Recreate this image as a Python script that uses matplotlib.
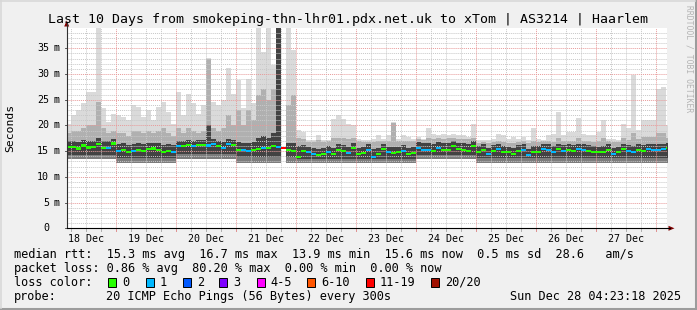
import numpy as np
import matplotlib
matplotlib.use("Agg")
import matplotlib.pyplot as plt
from matplotlib.patches import Rectangle, Polygon
from matplotlib.transforms import blended_transform_factory

W, H, DPI = 697, 310, 100
MONO = "DejaVu Sans Mono"

# time axis in hours since 18 Dec 00:00, 2 hour bins starting at 04:00
BIN_START = 4
BIN_WIDTH = 2
T_START, T_END = 4.38, 244.38
Y_MAX = 39.0

# median rtt per bin (ms)
median = [
    15.8, 15.8, 15.5, 16.1, 15.7, 15.8, 16.4, 15.6, 15.6, 16.5,
    15.0, 15.3, 14.9, 15.1, 15.3, 15.0, 15.4, 15.5, 15.3, 14.9, 15.1, 14.9,
    16.0, 16.0, 16.2, 16.0, 16.2, 16.2, 16.1, 16.4, 16.0, 15.6, 16.4, 16.2,
    15.3, 15.3, 15.1, 15.3, 15.4, 15.6, 15.6, 16.0, 15.8, 15.6, 15.3, 15.1,
    13.9, 15.0, 14.8, 14.5, 14.2, 14.5, 14.9, 14.5, 15.3, 15.1, 14.7, 15.6,
    14.5, 14.7, 15.3, 13.9, 14.5, 15.4, 14.8, 14.7, 14.8, 15.1, 14.5, 14.7,
    15.6, 15.3, 15.3, 15.1, 15.6, 15.3, 15.3, 16.0, 15.4, 15.3, 15.1, 16.0,
    14.9, 15.3, 14.5, 15.1, 15.4, 14.9, 14.8, 14.5, 15.1, 15.3, 14.2, 14.9,
    14.9, 15.4, 15.3, 14.9, 15.4, 15.1, 15.3, 15.1, 15.4, 15.3, 15.1, 14.9,
    14.8, 14.9, 15.3, 14.5, 14.8, 15.4, 15.1, 14.8, 15.3, 15.1, 15.4, 15.3,
    15.3, 15.4, 15.6,
]

# lost pings per bin (0, 1 ... 11 = class 11-19)
loss = [
    0, 0, 0, 0, 0, 0, 0, 0, 1, 0,
    1, 0, 0, 1, 0, 0, 0, 0, 0, 0, 0, 1,
    1, 0, 0, 1, 0, 0, 1, 1, 0, 1, 1, 0,
    0, 1, 1, 0, 0, 1, 0, 0, 1, 11, 0, 0,
    0, 0, 1, 1, 0, 0, 1, 0, 0, 0, 1, 0,
    0, 0, 1, 1, 0, 0, 1, 0, 0, 1, 0, 0,
    1, 1, 1, 0, 1, 0, 0, 0, 0, 0, 0, 0,
    0, 0, 1, 0, 1, 0, 0, 0, 0, 1, 1, 0,
    0, 1, 1, 1, 0, 1, 0, 0, 1, 1, 0, 0,
    0, 0, 0, 1, 0, 0, 1, 1, 0, 0, 1, 1,
    1, 1, 0,
]

# smoke: lowest ping, dark core bottom/top, upper percentile, highest ping (ms)
smoke_min = [
    13.4, 13.4, 13.4, 13.4, 13.4, 13.4, 13.4, 13.4, 13.4, 13.4,
    12.6, 12.6, 12.6, 12.6, 12.6, 12.6, 12.6, 12.6, 12.6, 12.6, 12.6, 12.6,
    13.4, 13.4, 13.4, 13.4, 13.4, 13.4, 13.4, 13.4, 13.4, 13.4, 13.4, 13.4,
    12.6, 12.6, 12.6, 12.6, 12.6, 12.6, 12.6, 12.6, 12.6, 15.4, 12.6, 12.6,
    12.7, 12.7, 12.7, 12.7, 12.7, 12.7, 12.7, 12.7, 12.7, 12.7, 12.7, 12.7,
    12.7, 12.7, 12.7, 12.7, 12.7, 12.7, 12.7, 12.7, 12.7, 12.7, 12.7, 12.7,
    13.4, 13.4, 13.4, 13.4, 13.4, 13.4, 13.4, 13.4, 13.4, 13.4, 13.4, 13.4,
    12.6, 12.6, 12.6, 12.6, 12.6, 12.6, 12.6, 12.6, 12.6, 12.6, 12.6, 12.6,
    12.6, 12.6, 12.6, 12.6, 12.6, 12.6, 12.6, 12.6, 12.6, 12.6, 12.6, 12.6,
    12.6, 12.6, 12.6, 12.6, 12.6, 12.6, 12.6, 12.6, 12.6, 12.6, 12.6, 12.6,
    12.6, 12.6, 12.6,
]
core_lo = [
    14.3, 14.3, 14.3, 14.3, 14.3, 14.3, 14.3, 14.3, 14.3, 14.3,
    13.6, 13.6, 13.6, 13.6, 13.6, 13.6, 13.6, 13.6, 13.6, 13.6, 13.6, 13.6,
    14.4, 14.4, 14.4, 14.4, 14.4, 14.4, 14.4, 14.4, 14.4, 14.4, 14.4, 14.4,
    13.8, 13.8, 13.8, 13.8, 13.8, 13.8, 13.8, 13.8, 13.8, 15.4, 13.8, 13.8,
    13.5, 13.5, 13.5, 13.5, 13.5, 13.5, 13.5, 13.5, 13.5, 13.5, 13.5, 13.5,
    13.5, 13.5, 13.5, 13.5, 13.5, 13.5, 13.5, 13.5, 13.5, 13.5, 13.5, 13.5,
    14.2, 14.2, 14.2, 14.2, 14.2, 14.2, 14.2, 14.2, 14.2, 14.2, 14.2, 14.2,
    13.6, 13.6, 13.6, 13.6, 13.6, 13.6, 13.6, 13.6, 13.6, 13.6, 13.6, 13.6,
    13.6, 13.6, 13.6, 13.6, 13.6, 13.6, 13.6, 13.6, 13.6, 13.6, 13.6, 13.6,
    13.6, 13.6, 13.6, 13.6, 13.6, 13.6, 13.6, 13.6, 13.6, 13.6, 13.6, 13.6,
    13.6, 13.6, 13.6,
]
core_hi = [
    17.0, 17.0, 16.8, 17.2, 17.0, 17.0, 17.5, 16.9, 16.9, 17.4,
    16.3, 16.5, 16.2, 16.4, 16.5, 16.3, 16.6, 16.6, 16.5, 16.2, 16.4, 16.2,
    17.0, 17.0, 17.2, 17.0, 17.2, 17.2, 20.0, 17.3, 17.0, 16.8, 17.4, 17.2,
    16.8, 16.6, 16.5, 16.8, 17.5, 18.0, 17.5, 18.5, 39.0, 15.8, 16.6, 16.5,
    16.0, 16.1, 15.9, 15.7, 15.5, 15.7, 16.0, 15.7, 16.3, 16.2, 15.9, 16.5,
    15.7, 15.9, 16.3, 15.4, 15.7, 16.4, 15.9, 15.9, 15.9, 16.1, 15.7, 15.9,
    16.7, 16.5, 16.5, 16.3, 16.7, 16.5, 16.5, 17.0, 16.5, 16.5, 16.3, 17.0,
    16.0, 16.3, 15.7, 16.1, 16.4, 16.0, 15.9, 15.7, 16.1, 16.3, 15.5, 16.0,
    16.0, 16.4, 16.3, 16.0, 16.4, 16.1, 16.3, 16.1, 16.4, 16.3, 16.1, 16.0,
    15.9, 16.0, 16.3, 15.7, 15.9, 16.4, 16.1, 16.0, 16.3, 16.1, 16.4, 16.3,
    16.3, 16.4, 16.5,
]
smoke_mid = [
    18.5, 19.0, 19.0, 19.5, 20.0, 20.0, 24.5, 19.5, 18.5, 19.0,
    18.5, 18.5, 18.0, 19.0, 19.0, 18.5, 19.0, 18.5, 19.0, 19.5, 18.5, 18.0,
    19.5, 18.5, 19.5, 19.0, 18.5, 19.0, 33.0, 19.5, 19.0, 19.5, 22.0, 20.0,
    23.0, 20.0, 23.0, 21.0, 26.0, 27.0, 25.0, 27.0, 39.0, 15.8, 24.0, 26.0,
    17.5, 17.3, 16.8, 16.8, 17.2, 16.8, 16.9, 17.5, 17.5, 17.5, 17.3, 17.5,
    16.9, 16.8, 16.8, 16.8, 17.0, 16.9, 17.0, 20.5, 16.9, 17.0, 17.0, 16.9,
    17.3, 17.2, 17.5, 17.4, 17.5, 17.4, 17.5, 17.6, 17.4, 17.4, 17.3, 17.6,
    16.6, 16.7, 16.5, 16.7, 16.9, 16.7, 16.6, 16.6, 16.7, 16.9, 16.5, 16.9,
    16.8, 16.9, 16.9, 16.8, 17.5, 16.9, 17.0, 17.0, 17.5, 17.0, 16.9, 16.8,
    16.9, 17.5, 16.9, 16.7, 16.8, 17.5, 17.2, 18.5, 17.3, 17.8, 17.8, 17.8,
    18.5, 18.5, 17.5,
]
smoke_max = [
    20.3, 22.0, 23.0, 24.3, 26.5, 26.5, 38.9, 23.3, 20.6, 22.3,
    22.0, 21.6, 21.0, 23.9, 23.6, 21.6, 23.0, 21.0, 23.6, 24.6, 22.6, 20.3,
    26.5, 22.0, 26.2, 24.3, 22.3, 23.9, 33.2, 24.6, 23.9, 24.9, 31.2, 26.2,
    28.8, 23.3, 29.1, 24.3, 39.0, 34.3, 39.0, 31.7, 39.0, 15.8, 39.0, 34.6,
    19.1, 18.8, 17.1, 17.1, 18.1, 17.1, 17.1, 21.3, 22.0, 21.3, 20.2, 20.0,
    17.4, 17.1, 17.1, 17.4, 18.1, 17.4, 18.1, 20.6, 17.4, 18.1, 17.8, 17.4,
    17.8, 17.4, 19.5, 18.4, 18.1, 18.4, 18.1, 18.4, 18.1, 18.1, 17.8, 20.3,
    17.1, 17.1, 17.1, 17.4, 18.4, 18.1, 17.4, 17.8, 17.4, 17.8, 17.1, 19.5,
    17.4, 17.1, 18.1, 18.4, 22.6, 18.1, 18.8, 18.8, 21.5, 18.4, 18.1, 18.1,
    18.8, 21.0, 17.4, 17.4, 17.1, 20.3, 19.5, 29.9, 19.1, 21.0, 21.0, 21.0,
    27.1, 27.5, 20.0,
]

day_labels = ["18 Dec", "19 Dec", "20 Dec", "21 Dec", "22 Dec",
              "23 Dec", "24 Dec", "25 Dec", "26 Dec", "27 Dec"]
y_ticks = [0, 5, 10, 15, 20, 25, 30, 35]

loss_colors = {0: "#26ff00", 1: "#00b8ff", 2: "#0059ff", 3: "#7e00ff",
               5: "#ff00ff", 10: "#ff5500", 11: "#ff0000", 20: "#a01000"}
legend_classes = [(0, "0"), (1, "1"), (2, "2"), (3, "3"), (5, "4-5"),
                  (10, "6-10"), (11, "11-19"), (20, "20/20")]


def fx(px):
    return px / W


def fy(py):
    return 1 - py / H


fig = plt.figure(figsize=(W / DPI, H / DPI), dpi=DPI, facecolor="#f0f0f0")
ax = fig.add_axes([fx(66.7), fy(228.3), 600 / W, 200.6 / H])
ax.set_facecolor("white")
ax.set_xlim(T_START, T_END)
ax.set_ylim(0, Y_MAX)
for s in ax.spines.values():
    s.set_visible(False)

n = len(median)
left = BIN_START + BIN_WIDTH * np.arange(n)
xs = np.append(left, left[-1] + BIN_WIDTH)


def ext(a):
    a = np.asarray(a, dtype=float)
    return np.append(a, a[-1])


# smoke bands
bands = [
    (smoke_mid, smoke_max, "#dadada"),
    (core_hi, smoke_mid, "#b0b0b0"),
    (smoke_min, core_lo, "#7c7c7c"),
    (core_lo, core_hi, "#424242"),
]
for lo, hi, c in bands:
    ax.fill_between(xs, ext(lo), ext(hi), step="post", color=c, lw=0, zorder=2)

# grid on top of the smoke
hours_minor = [h for h in range(6, 246, 6) if h % 24]
hours_major = list(range(24, 246, 24))
ax.vlines(hours_minor, 0, Y_MAX, colors="#c8c8c8", lw=0.7,
          linestyles=(0, (1, 1)), zorder=3)
ax.hlines([v for v in range(1, 39) if v % 5], T_START, T_END, colors="#c8c8c8",
          lw=0.7, linestyles=(0, (1, 1)), zorder=3)
ax.vlines(hours_major, 0, Y_MAX, colors="#e89a9a", lw=0.7,
          linestyles=(0, (1, 1)), zorder=3)
ax.hlines(y_ticks[1:], T_START, T_END, colors="#e89a9a", lw=0.7,
          linestyles=(0, (1, 1)), zorder=3)

# median, coloured by loss
med = np.asarray(median)
ax.bar(left, 0.42, bottom=med - 0.21, width=BIN_WIDTH, align="edge",
       color=[loss_colors[v] for v in loss], lw=0, zorder=4)

# axes lines and arrows
ax.set_xticks([12 + 24 * i for i in range(len(day_labels))], day_labels,
              family=MONO, fontsize=7.2)
ax.tick_params(axis="x", length=0, pad=4)
ax.set_yticks([])
ytr = blended_transform_factory(fig.transFigure, ax.transData)
for v in y_ticks:
    ax.text(fx(49), v, str(v), ha="right", va="center", transform=ytr,
            family=MONO, fontsize=7.2)
    if v:
        ax.text(fx(54), v, "m", ha="left", va="center", transform=ytr,
                family=MONO, fontsize=7.2)
    ax.plot([fx(64.5), fx(66.7)], [v, v], transform=ytr, color="#404040",
            lw=0.6, clip_on=False)
for h in range(6, 246, 6):
    ax.plot([h, h], [-0.6, 0], color="#e09090" if h % 24 == 0 else "#b0b0b0",
            lw=0.7, clip_on=False)

fig.add_artist(plt.Line2D([fx(66.7), fx(66.7)], [fy(228.3), fy(22)],
                          transform=fig.transFigure, color="#303030", lw=0.8))
fig.add_artist(plt.Line2D([fx(66.7), fx(670)], [fy(228.3), fy(228.3)],
                          transform=fig.transFigure, color="black", lw=0.8))
fig.add_artist(Polygon([(fx(64.2), fy(26.5)), (fx(69.2), fy(26.5)), (fx(66.7), fy(20.5))],
                       closed=True, transform=fig.transFigure, color="#800000", lw=0))
fig.add_artist(Polygon([(fx(668.5), fy(225.8)), (fx(668.5), fy(230.8)), (fx(674.5), fy(228.3))],
                       closed=True, transform=fig.transFigure, color="#800000", lw=0))

# texts
fig.text(fx(347.5), fy(19), "Last 10 Days from smokeping-thn-lhr01.pdx.net.uk to xTom | AS3214 | Haarlem",
         ha="center", va="center", family=MONO, fontsize=9.55)
fig.text(fx(10.5), fy(128), "Seconds", rotation=90, ha="center", va="center",
         family=MONO, fontsize=8.2)
fig.text(fx(689), fy(5), "RRDTOOL / TOBI OETIKER", rotation=270, ha="center",
         va="top", family=MONO, fontsize=5.8, color="#b4b4b4")

LEG = dict(family=MONO, fontsize=8.57, va="center", ha="left")
fig.text(fx(14.1), fy(254.3),
         "median rtt:  15.3 ms avg  16.7 ms max  13.9 ms min  15.6 ms now  0.5 ms sd  28.6   am/s",
         **LEG)
fig.text(fx(14.1), fy(268.3),
         "packet loss: 0.86 % avg  80.20 % max  0.00 % min  0.00 % now", **LEG)
fig.text(fx(14.1), fy(282.3), "loss color:", **LEG)
box_x = [108.3, 145.7, 182.7, 219.3, 256.7, 307.3, 365.7, 431.0]
for bx, (cls, lab) in zip(box_x, legend_classes):
    fig.add_artist(Rectangle((fx(bx), fy(286.7)), 8 / W, 9 / H,
                             transform=fig.transFigure, facecolor=loss_colors[cls],
                             edgecolor="black", lw=0.7))
    fig.text(fx(bx + 14), fy(282.3), lab, **LEG)
fig.text(fx(14.1), fy(296.3), "probe:", **LEG)
fig.text(fx(107.3 - 1.4), fy(296.3), "20 ICMP Echo Pings (56 Bytes) every 300s", **LEG)
fig.text(fx(681.5), fy(296.3), "Sun Dec 28 04:23:18 2025",
         family=MONO, fontsize=8.57, va="center", ha="right")

# 3d frame of the image
fig.add_artist(plt.Line2D([0, 1], [fy(309), fy(309)], transform=fig.transFigure,
                          color="#9c9c9c", lw=2.2))
fig.add_artist(plt.Line2D([fx(696), fx(696)], [0, 1], transform=fig.transFigure,
                          color="#9c9c9c", lw=2.2))
fig.add_artist(plt.Line2D([0, fx(695)], [fy(0.8), fy(0.8)], transform=fig.transFigure,
                          color="#d8d8d8", lw=1.2))
fig.add_artist(plt.Line2D([fx(0.8), fx(0.8)], [fy(308), 1], transform=fig.transFigure,
                          color="#d8d8d8", lw=1.2))

fig.savefig("out.png", dpi=DPI, facecolor=fig.get_facecolor())
